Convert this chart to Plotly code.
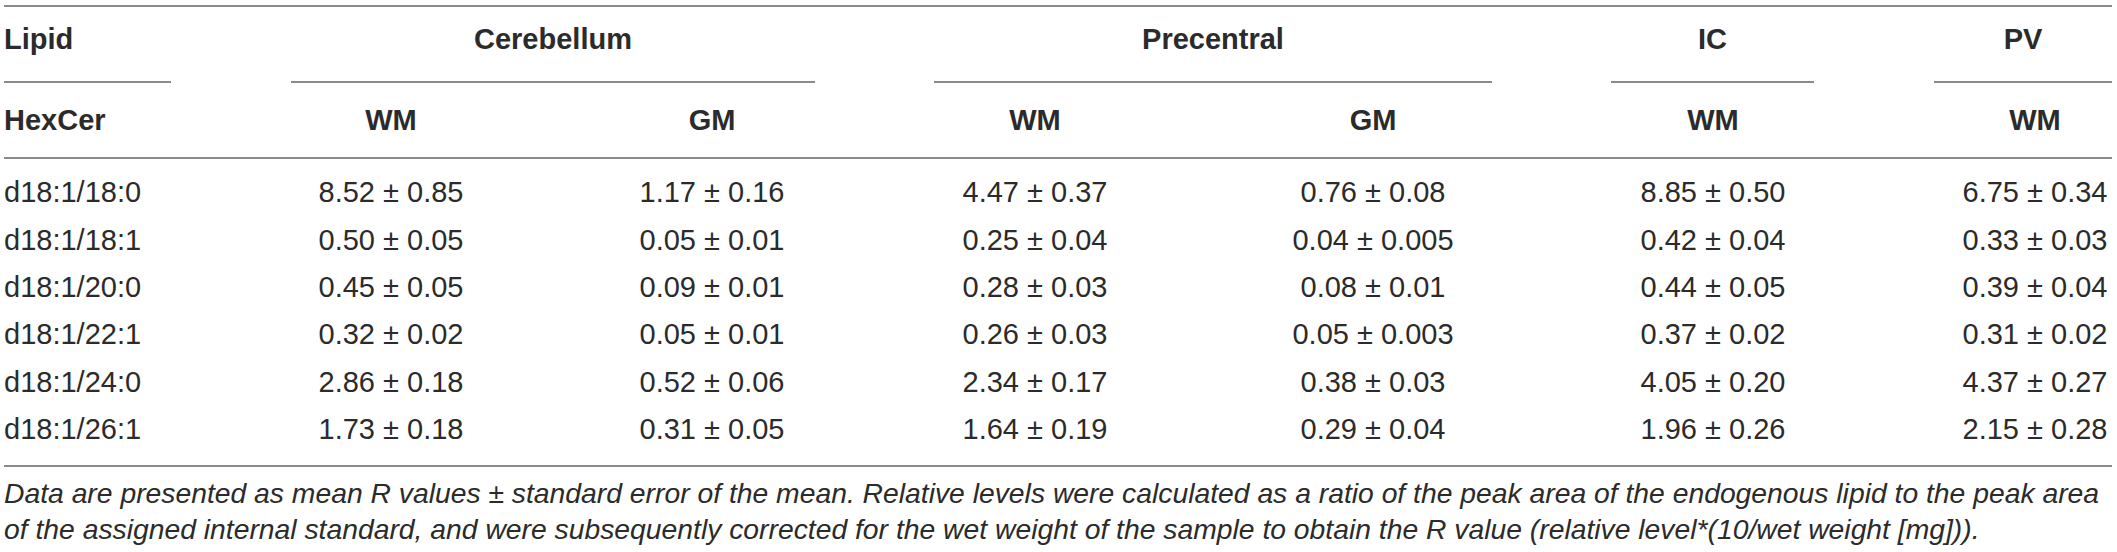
import plotly.graph_objects as go

# table contents
lipids = ["d18:1/18:0", "d18:1/18:1", "d18:1/20:0", "d18:1/22:1", "d18:1/24:0", "d18:1/26:1"]
regions = ["Cerebellum", "Precentral", "IC", "PV"]
tissues = ["WM", "GM", "WM", "GM", "WM", "WM"]

cereb_wm = ["8.52 ± 0.85", "0.50 ± 0.05", "0.45 ± 0.05", "0.32 ± 0.02", "2.86 ± 0.18", "1.73 ± 0.18"]
cereb_gm = ["1.17 ± 0.16", "0.05 ± 0.01", "0.09 ± 0.01", "0.05 ± 0.01", "0.52 ± 0.06", "0.31 ± 0.05"]
prec_wm = ["4.47 ± 0.37", "0.25 ± 0.04", "0.28 ± 0.03", "0.26 ± 0.03", "2.34 ± 0.17", "1.64 ± 0.19"]
prec_gm = ["0.76 ± 0.08", "0.04 ± 0.005", "0.08 ± 0.01", "0.05 ± 0.003", "0.38 ± 0.03", "0.29 ± 0.04"]
ic_wm = ["8.85 ± 0.50", "0.42 ± 0.04", "0.44 ± 0.05", "0.37 ± 0.02", "4.05 ± 0.20", "1.96 ± 0.26"]
pv_wm = ["6.75 ± 0.34", "0.33 ± 0.03", "0.39 ± 0.04", "0.31 ± 0.02", "4.37 ± 0.27", "2.15 ± 0.28"]

footnote = [
    "Data are presented as mean R values ± standard error of the mean. Relative levels were calculated as a ratio of the peak area of the endogenous lipid to the peak area",
    "of the assigned internal standard, and were subsequently corrected for the wet weight of the sample to obtain the R value (relative level*(10/wet weight [mg])).",
]

# layout (axis units = pixels)
W, H = 2117, 552
left = 4
col_x = [391, 712, 1035, 1373, 1713, 2035]
group_span = [(291, 815), (934, 1492), (1611, 1814), (1934, 2112)]
y_group, y_sub = 42, 123
row_y0, row_dy = 195, 47.4
y_top, y_mid, y_head, y_bottom = 6, 82, 158, 466
y_notes = [496, 532]

FONT = "Liberation Sans, Arial, sans-serif"
SIZE = 29
TXT = "#2b2b2b"
RULE = "#8a8a8a"

row_y = [row_y0 + i * row_dy for i in range(len(lipids))]
columns = [cereb_wm, cereb_gm, prec_wm, prec_gm, ic_wm, pv_wm]

fig = go.Figure()


def text_trace(x, y, text, pos, **font):
    return go.Scatter(
        x=x, y=y, text=text, mode="text", textposition=pos, cliponaxis=False,
        textfont=dict(family=FONT, size=SIZE, color=TXT, **font), hoverinfo="skip")


# header rows
fig.add_trace(text_trace([left], [y_group], ["Lipid"], "middle right", weight="bold"))
fig.add_trace(text_trace([(a + b) / 2 for a, b in group_span], [y_group] * len(regions),
                         regions, "middle center", weight="bold"))
fig.add_trace(text_trace([left], [y_sub], ["HexCer"], "middle right", weight="bold"))
fig.add_trace(text_trace(col_x, [y_sub] * len(tissues), tissues, "middle center", weight="bold"))

# body
fig.add_trace(text_trace([left] * len(lipids), row_y, lipids, "middle right"))
for cx, vals in zip(col_x, columns):
    fig.add_trace(text_trace([cx] * len(vals), row_y, vals, "middle center"))

# footnote
fig.add_trace(text_trace([left] * len(footnote), y_notes, footnote, "middle right", style="italic"))
fig.data[-1].textfont.size = 28.3

# rules
rule = dict(color=RULE, width=2)
shapes = [
    dict(type="line", x0=4, x1=2112, y0=y_top, y1=y_top, line=rule),
    dict(type="line", x0=4, x1=171, y0=y_mid, y1=y_mid, line=rule),
    dict(type="line", x0=4, x1=2112, y0=y_head, y1=y_head, line=rule),
    dict(type="line", x0=4, x1=2112, y0=y_bottom, y1=y_bottom, line=rule),
]
for a, b in group_span:
    shapes.append(dict(type="line", x0=a, x1=b, y0=y_mid, y1=y_mid, line=rule))

fig.update_layout(
    width=W, height=H, margin=dict(l=0, r=0, t=0, b=0),
    paper_bgcolor="white", plot_bgcolor="white", showlegend=False,
    xaxis=dict(range=[0, W], visible=False, fixedrange=True),
    yaxis=dict(range=[H, 0], visible=False, fixedrange=True),
    shapes=shapes,
)

# drop the default page margin so the figure sits at the window's top left corner
fig.write_html("out.html", config={"displayModeBar": False},
               post_script="document.body.style.margin='0';")
